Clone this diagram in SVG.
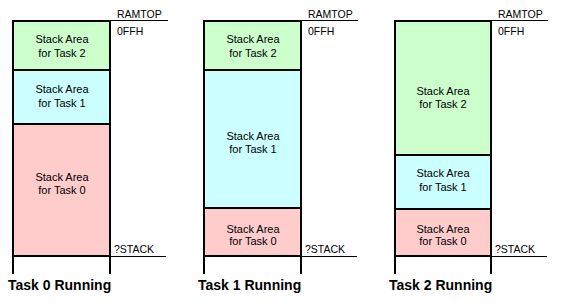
<svg xmlns="http://www.w3.org/2000/svg" width="587" height="304" viewBox="0 0 587 304">
<style>
.t{font-family:"Liberation Sans",Arial,sans-serif;font-size:11px;fill:#000}
.s{font-family:"Liberation Sans",Arial,sans-serif;font-size:10.5px;fill:#000}
.c{text-anchor:middle}
.h{font-family:"Liberation Sans",Arial,sans-serif;font-size:14px;font-weight:bold;fill:#000}
.g{fill:#ccffcc}.b{fill:#ccffff}.p{fill:#ffcccc}
.k{stroke:#000;stroke-width:2;fill:none}
.n{stroke:#000;stroke-width:1;fill:none}
</style>
<rect width="587" height="304" fill="#fff"/>
<g id="col0">
<rect id="c0t2" class="g" x="13" y="21" width="97" height="49"/>
<rect id="c0t1" class="b" x="13" y="70" width="97" height="54"/>
<rect id="c0t0" class="p" x="13" y="124" width="97" height="132"/>
<text class="t c" x="62" y="43">Stack Area</text><text class="t c" x="62" y="57">for Task 2</text>
<text class="t c" x="62" y="93">Stack Area</text><text class="t c" x="62" y="107">for Task 1</text>
<text class="t c" x="62" y="181">Stack Area</text><text class="t c" x="62" y="194">for Task 0</text>
<path class="k" d="M13,274V21H110V274M13,70H110M13,124H110M13,256H110"/>
<path class="n" d="M110,20.5H168M110,256.5H166"/>
<text class="s" x="117" y="18">RAMTOP</text>
<text class="s" x="117" y="35">0FFH</text>
<text class="s" x="114" y="253">?STACK</text>
<text class="h" x="8" y="290">Task 0 Running</text>
</g>
<g id="col1">
<rect id="c1t2" class="g" x="204" y="21" width="97" height="49"/>
<rect id="c1t1" class="b" x="204" y="70" width="97" height="138"/>
<rect id="c1t0" class="p" x="204" y="208" width="97" height="48"/>
<text class="t c" x="253" y="43">Stack Area</text><text class="t c" x="253" y="57">for Task 2</text>
<text class="t c" x="253" y="140">Stack Area</text><text class="t c" x="253" y="153">for Task 1</text>
<text class="t c" x="253" y="233">Stack Area</text><text class="t c" x="253" y="245">for Task 0</text>
<path class="k" d="M204,274V21H301V274M204,70H301M204,208H301M204,256H301"/>
<path class="n" d="M301,20.5H358M301,256.5H357"/>
<text class="s" x="308" y="18">RAMTOP</text>
<text class="s" x="308" y="35">0FFH</text>
<text class="s" x="305" y="253">?STACK</text>
<text class="h" x="198" y="290">Task 1 Running</text>
</g>
<g id="col2">
<rect id="c2t2" class="g" x="395" y="21" width="96" height="134"/>
<rect id="c2t1" class="b" x="395" y="155" width="96" height="54"/>
<rect id="c2t0" class="p" x="395" y="209" width="96" height="47"/>
<text class="t c" x="443" y="95">Stack Area</text><text class="t c" x="443" y="108">for Task 2</text>
<text class="t c" x="443" y="177">Stack Area</text><text class="t c" x="443" y="191">for Task 1</text>
<text class="t c" x="443" y="233">Stack Area</text><text class="t c" x="443" y="245">for Task 0</text>
<path class="k" d="M395,274V21H491V274M395,155H491M395,209H491M395,256H491"/>
<path class="n" d="M491,20.5H548M491,256.5H547"/>
<text class="s" x="498" y="18">RAMTOP</text>
<text class="s" x="498" y="35">0FFH</text>
<text class="s" x="495" y="253">?STACK</text>
<text class="h" x="389" y="290">Task 2 Running</text>
</g>
</svg>
